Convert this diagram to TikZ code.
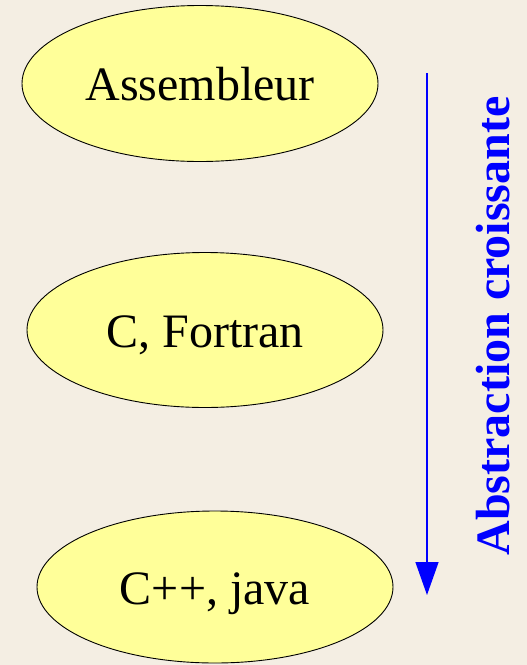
\documentclass[tikz,border=0pt]{standalone}
\usepackage{fontspec}
\setmainfont{Liberation Serif}
\usetikzlibrary{shapes.geometric,arrows.meta}
\definecolor{bgbeige}{HTML}{F4EEE3}
\definecolor{ellfill}{HTML}{FFFF99}
\definecolor{arrblue}{HTML}{0000FF}
\tikzset{
  lang/.style={ellipse, draw=black, line width=0.9pt, fill=ellfill, minimum width=356pt, minimum height=156pt, inner sep=0pt, font=\fontsize{48}{56}\selectfont, text height=34pt, text depth=0pt},
  axislabel/.style={text=arrblue, font=\fontsize{48}{56}\selectfont\bfseries, rotate=90, anchor=base, inner sep=0pt},
  axisarrow/.style={draw=arrblue, line width=1.4pt, -{Triangle[width=23pt,length=33pt]}, arrblue}
}
\begin{document}
\begin{tikzpicture}[x=1pt,y=-1pt]
\fill[bgbeige] (0,0) rectangle (527,665);
\useasboundingbox (0,0) rectangle (527,665);
\node[lang] (asm) at (200,83.5) {Assembleur};
\node[lang, minimum height=155pt] (cf) at (205,330) {C, Fortran};
\node[lang, minimum height=152pt] (cpp) at (215,587) {C++, java};
\coordinate (atop) at (427,73);
\coordinate (abot) at (427,595);
\draw[axisarrow] (atop) -- (abot);
\node[axislabel] (lbl) at (509,326) {Abstraction croissante};
\end{tikzpicture}
\end{document}
